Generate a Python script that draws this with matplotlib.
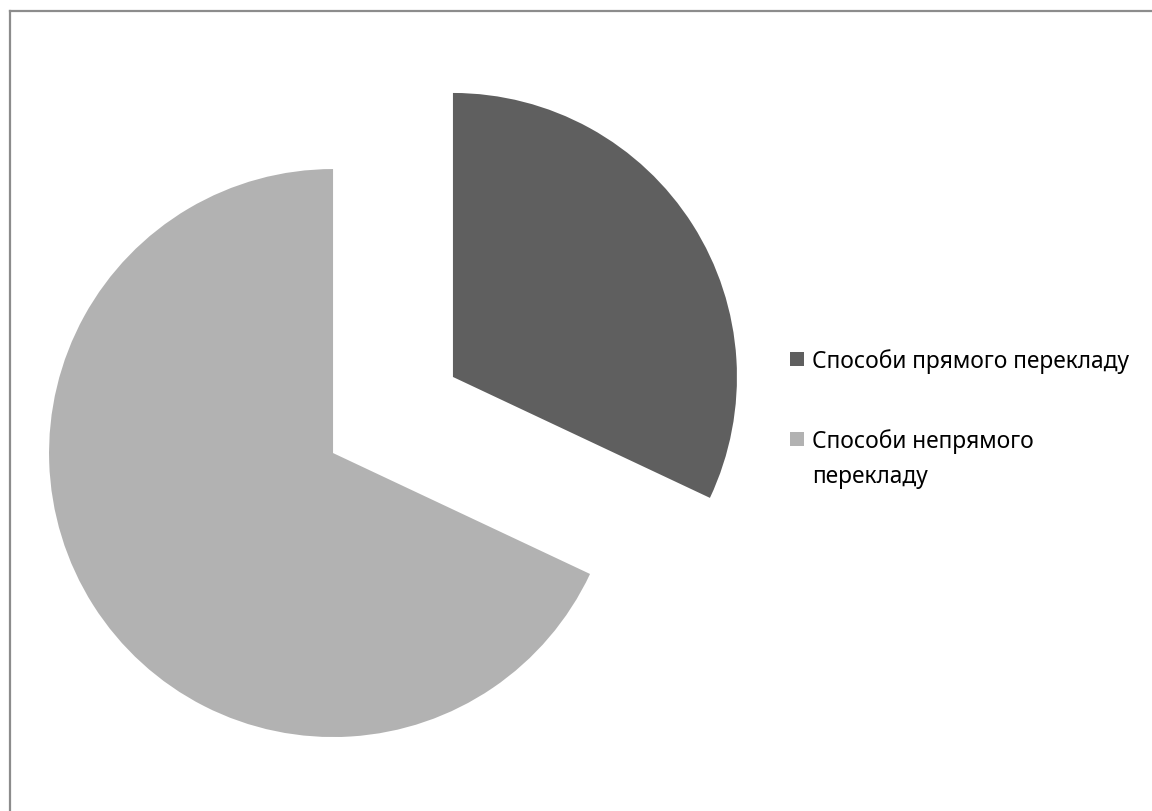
import matplotlib
matplotlib.use("Agg")
import matplotlib.pyplot as plt
from matplotlib.lines import Line2D
from matplotlib.patches import Rectangle

labels = ["Способи прямого перекладу", "Способи непрямого\nперекладу"]
values = [32, 68]
colors = ["#5f5f5f", "#b2b2b2"]

plt.rcParams["font.family"] = ["Noto Sans", "DejaVu Sans"]

W, H = 1152, 812
fig = plt.figure(figsize=(W / 100, H / 100), dpi=100)
ax = fig.add_axes([0, 0, 1, 1])

# explode is in data units here (radius 284 -> 0.25 r)
wedges, _ = ax.pie(values, colors=colors, startangle=90, counterclock=False,
                   explode=[71, 71], center=(393, H - 416), radius=284,
                   frame=True)
ax.set_xlim(0, W)
ax.set_ylim(0, H)
ax.set_aspect("equal")
ax.axis("off")

# chart area border (only top and left visible)
ax.add_line(Line2D([9.5, 9.5], [0, H - 11.5], color="#8c8c8c", lw=1.6))
ax.add_line(Line2D([9.5, W], [H - 11.5, H - 11.5], color="#8c8c8c", lw=1.6))

# legend, drawn by hand so the wrapped label lines up like the original
leg_x = 790
leg_y = [360, 440]
for lab, col, y in zip(labels, colors, leg_y):
    ax.add_patch(Rectangle((leg_x, H - y - 7), 14, 14, color=col, lw=0))
    extra = lab.count("\n") * 35  # baseline of a multi-line text is its last line
    ax.text(leg_x + 22, H - y - 8 - extra, lab, fontsize=16.4, va="baseline",
            ha="left", linespacing=1.6, color="#000000")

fig.savefig("out.png", dpi=100)
